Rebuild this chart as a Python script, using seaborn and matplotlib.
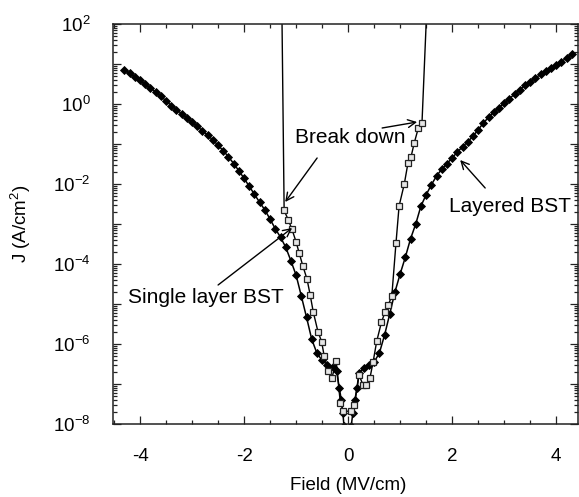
import numpy as np
import pandas as pd
import matplotlib
matplotlib.use("Agg")
import matplotlib.pyplot as plt
import matplotlib.ticker as mticker
import seaborn as sns

# Layered BST: field (MV/cm) and log10 of current density J (A/cm^2)
field_layered = [
    -4.3, -4.2, -4.1, -4.0, -3.9, -3.8, -3.7, -3.6, -3.5, -3.4,
    -3.3, -3.2, -3.1, -3.0, -2.9, -2.8, -2.7, -2.6, -2.5, -2.4,
    -2.3, -2.2, -2.1, -2.0, -1.9, -1.8, -1.7, -1.6, -1.5, -1.4,
    -1.3, -1.2, -1.1, -1.0, -0.9, -0.8, -0.7, -0.6, -0.5, -0.4,
    -0.3, -0.22, -0.17, -0.13, -0.1, -0.08,
    0.06, 0.09, 0.13, 0.17, 0.21, 0.3, 0.4, 0.5, 0.6, 0.7,
    0.8, 0.9, 1.0, 1.1, 1.2, 1.3, 1.4, 1.5, 1.6, 1.7,
    1.8, 1.9, 2.0, 2.1, 2.2, 2.3, 2.4, 2.5, 2.6, 2.7,
    2.8, 2.9, 3.0, 3.1, 3.2, 3.3, 3.4, 3.5, 3.6, 3.7,
    3.8, 3.9, 4.0, 4.1, 4.2, 4.3,
]
log_j_layered = [
    0.85, 0.77, 0.68, 0.59, 0.49, 0.40, 0.30, 0.19, 0.08, -0.04,
    -0.14, -0.24, -0.35, -0.46, -0.56, -0.67, -0.78, -0.90, -1.03, -1.17,
    -1.32, -1.49, -1.67, -1.86, -2.06, -2.26, -2.46, -2.65, -2.88, -3.12,
    -3.33, -3.58, -3.92, -4.28, -4.80, -5.33, -5.88, -6.23, -6.41, -6.52,
    -6.58, -6.68, -7.10, -7.40, -7.73, -8.05,
    -8.05, -7.73, -7.40, -7.10, -6.72, -6.60, -6.52, -6.45, -6.23, -5.78,
    -5.25, -4.70, -4.25, -3.83, -3.37, -3.00, -2.55, -2.27, -2.02, -1.80,
    -1.63, -1.49, -1.35, -1.20, -1.07, -0.94, -0.81, -0.64, -0.48, -0.33,
    -0.20, -0.09, 0.02, 0.13, 0.25, 0.36, 0.47, 0.56, 0.65, 0.74,
    0.82, 0.90, 0.97, 1.06, 1.15, 1.24,
]

# Single layer BST, ending at both sides in dielectric breakdown
field_single = [
    -1.279, -1.23, -1.15, -1.08, -1.0, -0.94, -0.87, -0.79, -0.73, -0.67,
    -0.58, -0.51, -0.46, -0.38, -0.31, -0.23, -0.15, -0.09,
    0.05, 0.12, 0.21, 0.29, 0.35, 0.42, 0.48, 0.55, 0.64, 0.71,
    0.77, 0.84, 0.92, 0.98, 1.08, 1.15, 1.21, 1.27, 1.35, 1.42, 1.532,
]
log_j_single = [
    3.0, -2.66, -2.90, -3.13, -3.45, -3.73, -4.05, -4.38, -4.77, -5.20,
    -5.69, -5.94, -6.30, -6.68, -6.85, -6.42, -7.47, -7.68,
    -7.68, -7.53, -6.78, -7.03, -7.03, -6.85, -6.45, -5.93, -5.46, -5.20,
    -5.03, -4.80, -3.48, -2.55, -2.00, -1.48, -1.32, -0.98, -0.60, -0.48, 3.0,
]

layered = pd.DataFrame({"field": field_layered,
                        "J": 10.0 ** np.array(log_j_layered)})
single = pd.DataFrame({"field": field_single,
                       "J": 10.0 ** np.array(log_j_single)})

sns.set_theme(style="ticks")
plt.rcParams["font.family"] = ["Liberation Sans", "DejaVu Sans"]
plt.rcParams["mathtext.fontset"] = "custom"
plt.rcParams["mathtext.rm"] = "Liberation Sans"
plt.rcParams["mathtext.it"] = "Liberation Sans:italic"
plt.rcParams["mathtext.default"] = "regular"
plt.rcParams["text.color"] = "black"
plt.rcParams["axes.labelcolor"] = "black"
plt.rcParams["xtick.labelcolor"] = "black"
plt.rcParams["ytick.labelcolor"] = "black"

fig = plt.figure(figsize=(5.79, 4.97), dpi=100)
ax = fig.add_axes([0.1952, 0.1469, 0.8031, 0.8048])

sns.lineplot(data=layered, x="field", y="J", sort=False, estimator=None,
             ax=ax, color="black", linewidth=1.1, marker="D",
             markersize=4.0, markerfacecolor="black",
             markeredgecolor="black", markeredgewidth=0.6)
sns.lineplot(data=single, x="field", y="J", sort=False, estimator=None,
             ax=ax, color="black", linewidth=1.0, marker="s",
             markersize=4.2, markerfacecolor="#e6e6e6",
             markeredgecolor="#222222", markeredgewidth=0.9)

ax.set_yscale("log")
ax.set_xlim(-4.52, 4.42)
ax.set_ylim(1e-8, 1e2)

ax.xaxis.set_major_locator(mticker.MultipleLocator(2))
ax.xaxis.set_minor_locator(mticker.MultipleLocator(0.5))
ax.xaxis.set_major_formatter(mticker.FuncFormatter(lambda v, p: f"{v:.0f}"))

decades = [10.0 ** k for k in range(-8, 3)]
ax.yaxis.set_major_locator(mticker.FixedLocator(decades))
ax.yaxis.set_minor_locator(mticker.LogLocator(base=10, subs=np.arange(2, 10),
                                              numticks=20))


def decade_label(v, pos):
    k = int(round(np.log10(v)))
    return f"$10^{{{k}}}$" if k % 2 == 0 else ""


ax.yaxis.set_major_formatter(mticker.FuncFormatter(decade_label))
ax.yaxis.set_minor_formatter(mticker.NullFormatter())

ax.tick_params(which="both", direction="in", top=True, right=True,
               color="#222222", width=0.9)
ax.tick_params(which="major", length=6)
ax.tick_params(which="minor", length=3)
ax.tick_params(axis="y", which="major", labelsize=13.5, pad=16)
ax.tick_params(axis="x", which="major", labelsize=13.5, pad=17)
for s in ax.spines.values():
    s.set_color("#222222")
    s.set_linewidth(1.1)

ax.set_xlabel("Field (MV/cm)", fontsize=13.5)
ax.set_ylabel("J (A/cm$^2$)", fontsize=13.5)
ax.xaxis.set_label_coords(0.505, -0.132)
ax.yaxis.set_label_coords(-0.172, 0.5)

arrow = dict(arrowstyle="->", color="black", lw=1.0,
             shrinkA=0, shrinkB=0, mutation_scale=14)
ax.text(0.04, 10 ** -0.825, "Break down", fontsize=15,
        ha="center", va="center")
ax.annotate("", xy=(-1.21, 10 ** -2.45), xytext=(-0.596, 10 ** -1.35),
            arrowprops=arrow)
ax.annotate("", xy=(1.327, 10 ** -0.45), xytext=(0.654, 10 ** -0.6),
            arrowprops=arrow)
ax.text(3.106, 10 ** -2.575, "Layered BST", fontsize=15,
        ha="center", va="center")
ax.annotate("", xy=(2.154, 10 ** -1.4), xytext=(2.635, 10 ** -2.1),
            arrowprops=arrow)
ax.text(-2.74, 10 ** -4.85, "Single layer BST", fontsize=15,
        ha="center", va="center")
ax.annotate("", xy=(-1.077, 10 ** -3.1), xytext=(-2.5, 10 ** -4.525),
            arrowprops=arrow)

fig.savefig("out.png", dpi=100)
